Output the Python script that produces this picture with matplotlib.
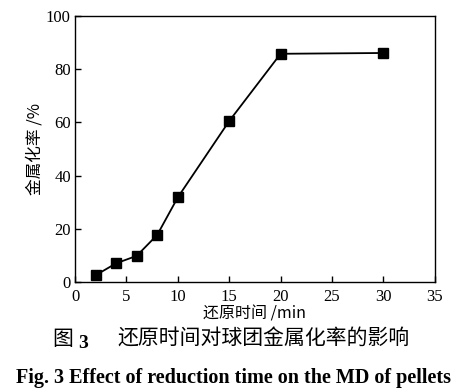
import matplotlib
matplotlib.use("Agg")
import matplotlib.pyplot as plt

# reduction time (min) vs metallization degree (%)
time_min = [2, 4, 6, 8, 10, 15, 20, 30]
metal_pct = [2.5, 7.0, 9.8, 17.7, 31.8, 60.5, 85.8, 86.1]
x_ticks = [0, 5, 10, 15, 20, 25, 30, 35]
y_ticks = [0, 20, 40, 60, 80, 100]

CJK = ["Noto Sans CJK SC", "DejaVu Sans"]
SERIF = ["Liberation Serif", "DejaVu Serif"]
W, H = 466, 391

fig = plt.figure(figsize=(W / 100, H / 100), dpi=100)
ax = fig.add_axes([0.161, 0.279, 0.772, 0.680])
ax.plot(time_min, metal_pct, color="black", lw=1.3, marker="s", ms=6.8)
ax.set_xlim(0, 35)
ax.set_ylim(0, 100)
ax.set_xticks(x_ticks)
ax.set_yticks(y_ticks)
ax.tick_params(direction="in", length=4, width=1, labelsize=12, top=False, right=False)
ax.tick_params(axis="x", pad=5)
ax.tick_params(axis="y", pad=3)
for lab in ax.get_xticklabels() + ax.get_yticklabels():
    lab.set_fontfamily(SERIF)
for s in ax.spines.values():
    s.set_linewidth(1.0)

ax.set_ylabel("金属化率 /%", family=CJK, fontsize=12, labelpad=2)
ax.set_xlabel("还原时间 /min", family=CJK, fontsize=11.5, labelpad=0.5)

# caption, Chinese line
cy = 1 - 339 / H
fig.text(52 / W, cy, "图", family=CJK, fontsize=15, ha="left", va="center")
fig.text(78 / W, cy - 4 / H, "3", family=SERIF, fontsize=14, fontweight="bold",
         ha="left", va="center")
fig.text(117 / W, cy, "还原时间对球团金属化率的影响", family=CJK, fontsize=15,
         ha="left", va="center")
# caption, English line
fig.text(0.5, 1 - 378 / H, "Fig. 3 Effect of reduction time on the MD of pellets",
         family=SERIF, fontsize=14.5, fontweight="bold", ha="center", va="center")

fig.savefig("out.png", dpi=100)
